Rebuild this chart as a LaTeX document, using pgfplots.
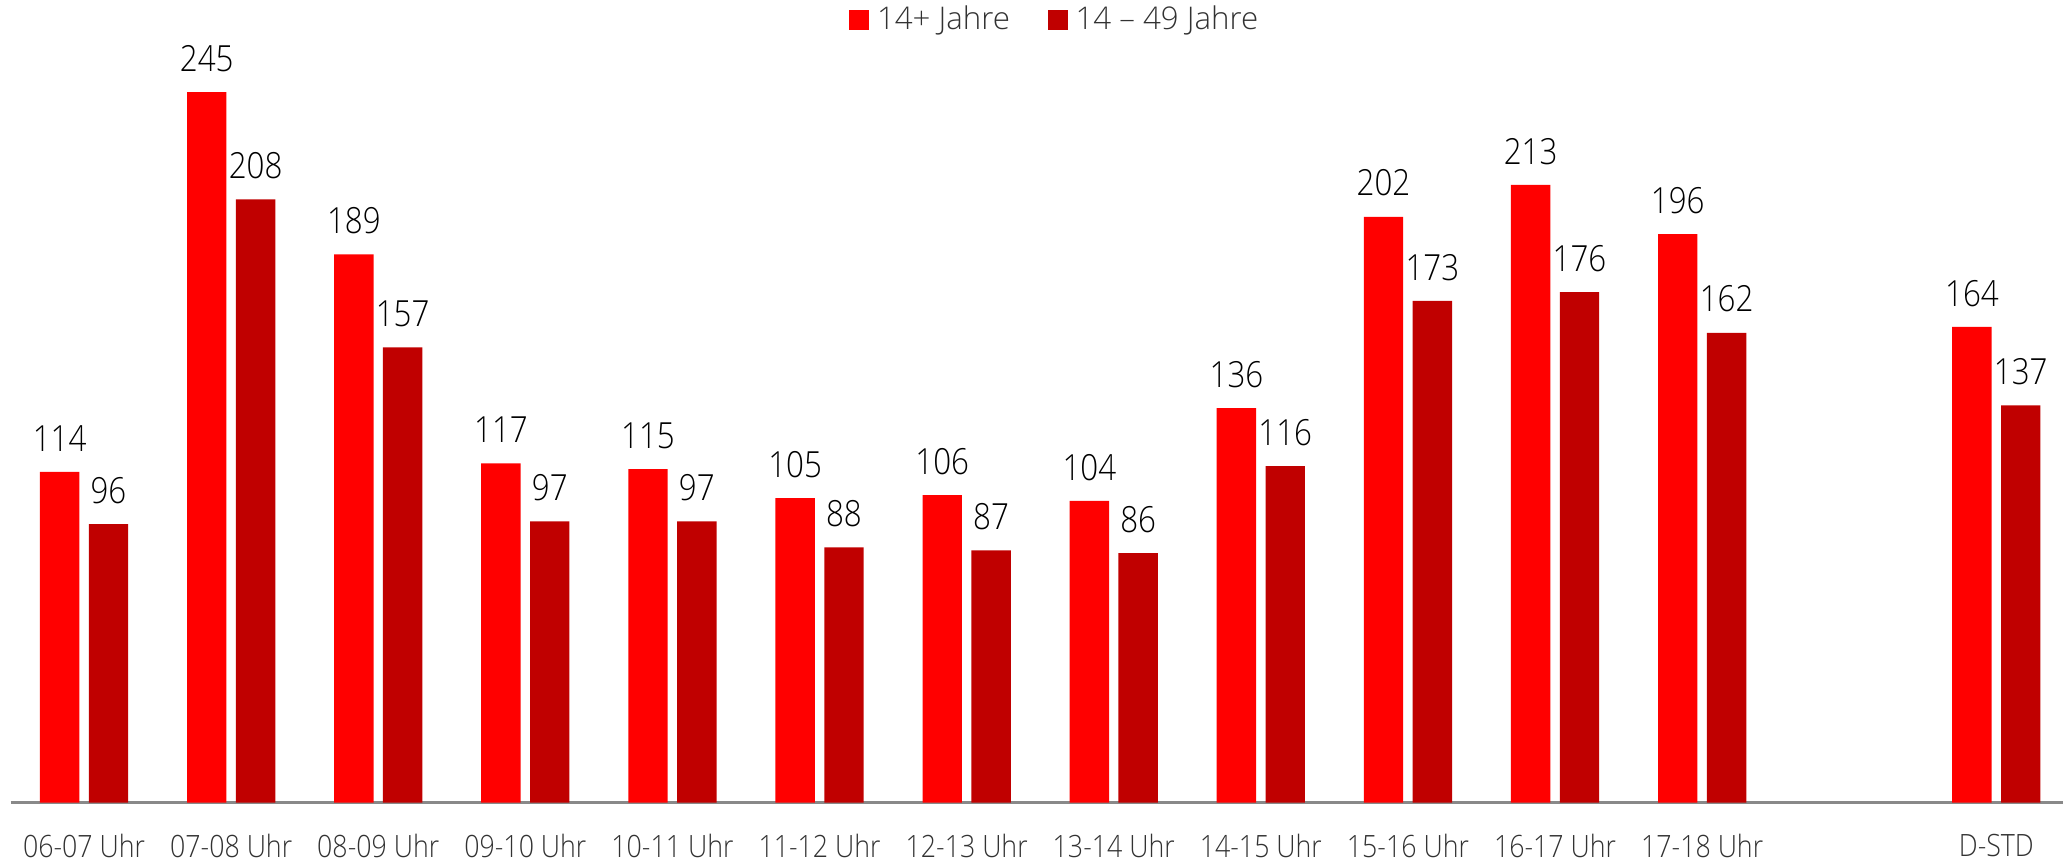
\documentclass[border=0pt]{standalone}
\usepackage{fontspec}
\IfFontExistsTF{Open Sans Light}{%
  \setmainfont{Open Sans Light}[FakeStretch=0.87]
  \newfontfamily\legfont{Open Sans Light}
}{%
  \setmainfont{Open Sans}[FakeStretch=0.87]
  \newfontfamily\legfont{Open Sans}
}
\usepackage{pgfplots}
\pgfplotsset{compat=1.18}
\definecolor{rA}{RGB}{255,0,0}
\definecolor{rB}{RGB}{192,0,0}
\definecolor{axgray}{RGB}{137,137,137}
\definecolor{tickgray}{RGB}{50,50,50}
\pgfplotsset{sqlegend/.style={legend image code/.code={\fill[##1] (0pt,-4pt) rectangle (8pt,4pt);}}}
\begin{document}
\begin{tikzpicture}
\begin{axis}[
  scale only axis,
  width=821.4pt, height=313.2pt,
  xmin=-0.5, xmax=13.46, ymin=0, ymax=270,
  axis x line=bottom, axis y line=none,
  x axis line style={-, draw=axgray, line width=0.9pt},
  ybar, bar width=0.268,
  /pgf/number format/assume math mode=true,
  xtick={0,1,2,3,4,5,6,7,8,9,10,11,13},
  xticklabels={06-07 Uhr,07-08 Uhr,08-09 Uhr,09-10 Uhr,10-11 Uhr,11-12 Uhr,12-13 Uhr,13-14 Uhr,14-15 Uhr,15-16 Uhr,16-17 Uhr,17-18 Uhr,D-STD},
  major tick length=0pt,
  xticklabel style={font=\fontsize{12.3}{12.3}\selectfont, text=tickgray, anchor=north, inner sep=0pt, yshift=-12.4pt},
  ytick=\empty,
  clip=false,
  nodes near coords,
  nodes near coords style={font=\fontsize{14.4}{14.4}\selectfont, text=black, anchor=south, inner sep=0pt, yshift=8pt},
  legend columns=2,
  legend style={at={(0.508,1)}, anchor=center, draw=none, fill=none,
    font=\legfont\fontsize{12.5}{12.5}\selectfont, text=tickgray, inner sep=0pt,
    nodes={inner sep=0pt},
    /tikz/every even column/.append style={column sep=15pt},
    /tikz/every odd column/.append style={column sep=3.2pt}},
]
\addplot[fill=rA, draw=none, bar shift=-0.166, sqlegend] coordinates {
  (0,114) (1,245) (2,189) (3,117) (4,115) (5,105) (6,106) (7,104) (8,136) (9,202) (10,213) (11,196) (13,164)};
\addplot[fill=rB, draw=none, bar shift=0.166, sqlegend] coordinates {
  (0,96) (1,208) (2,157) (3,97) (4,97) (5,88) (6,87) (7,86) (8,116) (9,173) (10,176) (11,162) (13,137)};
\legend{14+ Jahre, 14 – 49 Jahre}
\coordinate (O) at (axis cs:-0.5,0);
\end{axis}
\pgfresetboundingbox
\path ([xshift=-4.2pt,yshift=-23.76pt]O) rectangle ++(825.2pt,344.8pt);
\end{tikzpicture}
\end{document}
